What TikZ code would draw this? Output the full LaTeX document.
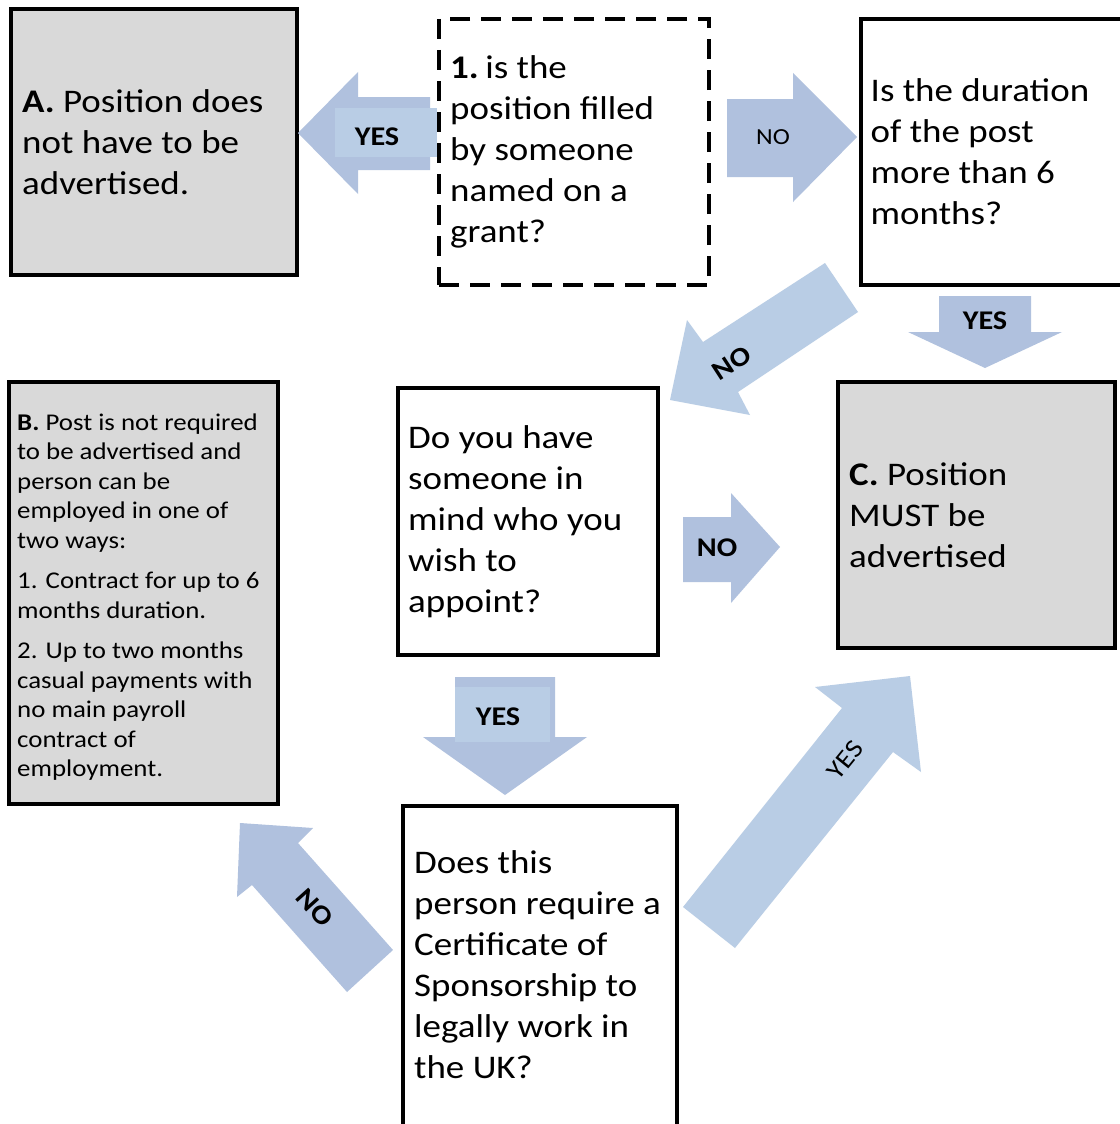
\documentclass[tikz,border=0pt]{standalone}
\usepackage{fontspec}
\setmainfont{Carlito}[FakeStretch=1.12]
\definecolor{arrowdark}{RGB}{176,193,222}
\definecolor{arrowlight}{RGB}{185,205,229}
\definecolor{boxgray}{RGB}{217,217,217}
\begin{document}
\begin{tikzpicture}[x=1pt,y=-1pt,
    box/.style={draw,line width=4pt,inner sep=0pt},
    graybox/.style={box,fill=boxgray},
    dashbox/.style={box,dash pattern=on 20pt off 11pt},
    txt/.style={anchor=west,inner sep=0pt,align=left,font=\fontsize{33}{41}\selectfont},
    smalltxt/.style={txt,font=\fontsize{24}{29.5}\selectfont},
    darrow/.style={fill=arrowdark},
    larrow/.style={fill=arrowlight},
    lbl/.style={font=\fontsize{27}{30}\selectfont\bfseries},
    plainlbl/.style={font=\fontsize{26}{30}\selectfont}]
  \useasboundingbox (0,0) rectangle (1119,1124);
  \fill[white] (0,0) rectangle (1119,1124);

  \node[graybox,minimum width=286pt,minimum height=266pt] (posA) at (154,142) {};
  \node[txt] (posAtext) at ([xshift=13pt]posA.west) {\textbf{A.} Position does\\not have to be\\advertised.};

  \node[dashbox,minimum width=270pt,minimum height=266pt] (grant) at (574,152) {};
  \node[txt] (granttext) at ([xshift=13pt]grant.west) {\textbf{1.}\hspace{0.2em}is the\\position filled\\by someone\\named on a\\grant?};

  \node[box,minimum width=279pt,minimum height=266pt] (duration) at (1000,152) {};
  \node[txt] (durationtext) at ([xshift=12pt]duration.west) {Is the duration\\of the post\\more than 6\\months?};

  \node[graybox,minimum width=277pt,minimum height=266pt] (posC) at (976.5,515) {};
  \node[txt] (posCtext) at ([xshift=13pt]posC.west) {\textbf{C.} Position\\MUST be\\advertised};

  \node[box,minimum width=260pt,minimum height=267pt] (inmind) at (528,521.5) {};
  \node[txt] (inmindtext) at ([xshift=12pt]inmind.west) {Do you have\\someone in\\mind who you\\wish to\\appoint?};

  \node[box,minimum width=274pt,minimum height=320pt] (sponsor) at (540,966) {};
  \node[txt] (sponsortext) at ([xshift=13pt,yshift=1pt]sponsor.west) {Does this\\person require a\\Certificate of\\Sponsorship to\\legally work in\\the UK?};

  \node[graybox,minimum width=269pt,minimum height=422pt] (posB) at (143.5,593) {};
  \node[smalltxt] (posBtext) at ([xshift=10pt,yshift=-4pt]posB.west) {\textbf{B.} Post is not required\\to be advertised and\\person can be\\employed in one of\\two ways:\\[11pt]1. Contract for up to 6\\months duration.\\[11pt]2. Up to two months\\casual payments with\\no main payroll\\contract of\\employment.};

  \fill[darrow] (298,133) -- (358,72) -- (358,97) -- (430,97) -- (430,170) -- (358,170) -- (358,194) -- cycle;
  \fill[larrow] (335,108) rectangle (437,157);
  \node[lbl] (yesA) at (377,137) {YES};

  \fill[darrow] (857,137) -- (793,73) -- (793,99) -- (727,99) -- (727,177) -- (793,177) -- (793,202) -- cycle;
  \node[plainlbl,font=\fontsize{23}{26}\selectfont] (noright) at (773,137) {NO};

  \fill[larrow] (825,263) -- (858,312) -- (738,392) -- (750,415) -- (670,400) -- (687,320) -- (703,342) -- cycle;
  \node[lbl,rotate=33] (nodiag) at (732,363) {NO};

  \fill[darrow] (985,368) -- (1062,332) -- (1031,332) -- (1031,296) -- (939,296) -- (939,332) -- (908,332) -- cycle;
  \node[lbl] (yesC) at (985,321) {YES};

  \fill[darrow] (505,795) -- (587,737) -- (555,737) -- (555,677) -- (455,677) -- (455,737) -- (423,737) -- cycle;
  \fill[larrow] (455,687) rectangle (550,742);
  \node[lbl] (yesdown) at (498,717) {YES};

  \fill[darrow] (780,547) -- (731,493) -- (731,517) -- (683,517) -- (683,582) -- (731,582) -- (731,603) -- cycle;
  \node[lbl] (nomind) at (717,548) {NO};

  \fill[darrow] (240,823) -- (313,828) -- (298,843) -- (393,950) -- (347,992) -- (252,885) -- (237,897) -- cycle;
  \node[lbl,rotate=-48] (noB) at (315,908) {NO};

  \fill[larrow] (910,676) -- (921,772) -- (893,752) -- (735,948) -- (683,907) -- (842,708) -- (815,687) -- cycle;
  \node[plainlbl,rotate=51] (yesup) at (845,760) {YES};
\end{tikzpicture}
\end{document}
